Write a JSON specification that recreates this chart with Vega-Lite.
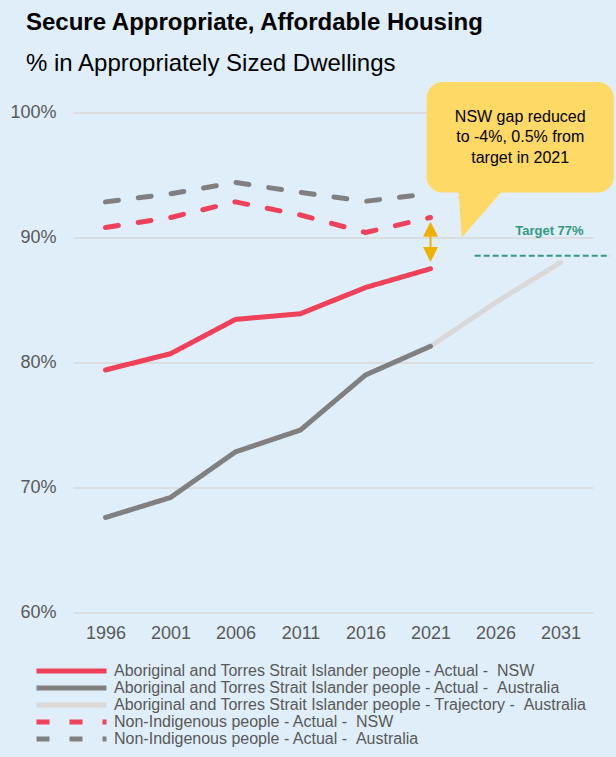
{
  "$schema": "https://vega.github.io/schema/vega-lite/v6.json",
  "autosize": "none",
  "width": 520,
  "height": 500,
  "padding": {"left": 73, "top": 112.5, "right": 23, "bottom": 144.5},
  "background": "#DFEEF9",
  "config": {
    "font": "Liberation Sans",
    "view": {"stroke": null}
  },
  "title": {
    "text": "Secure Appropriate, Affordable Housing",
    "subtitle": "% in Appropriately Sized Dwellings",
    "anchor": "start",
    "frame": "group",
    "dx": -47,
    "fontSize": 24,
    "fontWeight": "bold",
    "color": "#000000",
    "subtitleFontSize": 24,
    "subtitleColor": "#000000",
    "subtitlePadding": 17,
    "offset": 6
  },
  "layer": [
    {
      "data": {
        "values": [
          {"series": "Aboriginal and Torres Strait Islander people - Actual - \u00a0NSW", "year": 1996, "pct": 79.4},
          {"series": "Aboriginal and Torres Strait Islander people - Actual - \u00a0NSW", "year": 2001, "pct": 80.7},
          {"series": "Aboriginal and Torres Strait Islander people - Actual - \u00a0NSW", "year": 2006, "pct": 83.45},
          {"series": "Aboriginal and Torres Strait Islander people - Actual - \u00a0NSW", "year": 2011, "pct": 83.9},
          {"series": "Aboriginal and Torres Strait Islander people - Actual - \u00a0NSW", "year": 2016, "pct": 86.0},
          {"series": "Aboriginal and Torres Strait Islander people - Actual - \u00a0NSW", "year": 2021, "pct": 87.5},
          {"series": "Aboriginal and Torres Strait Islander people - Trajectory - \u00a0Australia", "year": 2021, "pct": 81.3},
          {"series": "Aboriginal and Torres Strait Islander people - Trajectory - \u00a0Australia", "year": 2026, "pct": 84.8},
          {"series": "Aboriginal and Torres Strait Islander people - Trajectory - \u00a0Australia", "year": 2031, "pct": 88.0},
          {"series": "Aboriginal and Torres Strait Islander people - Actual - \u00a0Australia", "year": 1996, "pct": 67.6},
          {"series": "Aboriginal and Torres Strait Islander people - Actual - \u00a0Australia", "year": 2001, "pct": 69.2},
          {"series": "Aboriginal and Torres Strait Islander people - Actual - \u00a0Australia", "year": 2006, "pct": 72.85},
          {"series": "Aboriginal and Torres Strait Islander people - Actual - \u00a0Australia", "year": 2011, "pct": 74.6},
          {"series": "Aboriginal and Torres Strait Islander people - Actual - \u00a0Australia", "year": 2016, "pct": 79.0},
          {"series": "Aboriginal and Torres Strait Islander people - Actual - \u00a0Australia", "year": 2021, "pct": 81.3},
          {"series": "Non-Indigenous people - Actual - \u00a0NSW", "year": 1996, "pct": 90.8},
          {"series": "Non-Indigenous people - Actual - \u00a0NSW", "year": 2001, "pct": 91.6},
          {"series": "Non-Indigenous people - Actual - \u00a0NSW", "year": 2006, "pct": 92.85},
          {"series": "Non-Indigenous people - Actual - \u00a0NSW", "year": 2011, "pct": 91.8},
          {"series": "Non-Indigenous people - Actual - \u00a0NSW", "year": 2016, "pct": 90.4},
          {"series": "Non-Indigenous people - Actual - \u00a0NSW", "year": 2021, "pct": 91.6},
          {"series": "Non-Indigenous people - Actual - \u00a0Australia", "year": 1996, "pct": 92.85},
          {"series": "Non-Indigenous people - Actual - \u00a0Australia", "year": 2001, "pct": 93.5},
          {"series": "Non-Indigenous people - Actual - \u00a0Australia", "year": 2006, "pct": 94.4},
          {"series": "Non-Indigenous people - Actual - \u00a0Australia", "year": 2011, "pct": 93.6},
          {"series": "Non-Indigenous people - Actual - \u00a0Australia", "year": 2016, "pct": 92.9},
          {"series": "Non-Indigenous people - Actual - \u00a0Australia", "year": 2021, "pct": 93.5}
        ]
      },
      "mark": {"type": "line", "strokeWidth": 5, "strokeCap": "round", "strokeJoin": "round"},
      "encoding": {
        "x": {
          "field": "year", "type": "quantitative",
          "scale": {"domain": [1993.5, 2033.5], "nice": false, "zero": false},
          "axis": {
            "title": null, "values": [1996, 2001, 2006, 2011, 2016, 2021, 2026, 2031], "format": "d",
            "grid": false, "domain": false, "ticks": false, "labelFontSize": 18, "labelColor": "#595959",
            "labelPadding": 12, "labelFont": "Liberation Sans"
          }
        },
        "y": {
          "field": "pct", "type": "quantitative",
          "scale": {"domain": [60, 100], "nice": false, "zero": false},
          "axis": {
            "title": null, "values": [60, 70, 80, 90, 100], "labelExpr": "datum.value + '%'",
            "grid": true, "gridColor": "#D9D9D9", "gridWidth": 1.5, "domain": false, "ticks": false,
            "labelFontSize": 18, "labelColor": "#595959", "labelPadding": 17, "labelFont": "Liberation Sans"
          }
        },
        "color": {
          "field": "series", "type": "nominal",
          "scale": {
            "domain": [
              "Aboriginal and Torres Strait Islander people - Actual - \u00a0NSW",
              "Aboriginal and Torres Strait Islander people - Actual - \u00a0Australia",
              "Aboriginal and Torres Strait Islander people - Trajectory - \u00a0Australia",
              "Non-Indigenous people - Actual - \u00a0NSW",
              "Non-Indigenous people - Actual - \u00a0Australia"
            ],
            "range": ["#EF415A", "#808080", "#D9D9D9", "#EF415A", "#808080"]
          },
          "legend": {
            "title": null, "orient": "none", "legendX": -39, "legendY": 551,
            "symbolType": "stroke", "symbolSize": 4900, "symbolStrokeWidth": 5,
            "labelFontSize": 16, "labelColor": "#595959", "labelLimit": 600, "labelOffset": 5,
            "clipHeight": 15, "rowPadding": 0, "labelFont": "Liberation Sans"
          }
        },
        "strokeDash": {
          "field": "series", "type": "nominal",
          "scale": {
            "domain": [
              "Aboriginal and Torres Strait Islander people - Actual - \u00a0NSW",
              "Aboriginal and Torres Strait Islander people - Actual - \u00a0Australia",
              "Aboriginal and Torres Strait Islander people - Trajectory - \u00a0Australia",
              "Non-Indigenous people - Actual - \u00a0NSW",
              "Non-Indigenous people - Actual - \u00a0Australia"
            ],
            "range": [[1, 0], [1, 0], [1, 0], [13, 20], [13, 20]]
          },
          "legend": {
            "title": null, "orient": "none", "legendX": -39, "legendY": 551,
            "symbolType": "stroke", "symbolSize": 4900, "symbolStrokeWidth": 5,
            "labelFontSize": 16, "labelColor": "#595959", "labelLimit": 600, "labelOffset": 5,
            "clipHeight": 15, "rowPadding": 0, "labelFont": "Liberation Sans"
          }
        }
      }
    },
    {
      "data": {"values": [{"x": 2024.4, "x2": 2034.8, "y": 88.55}]},
      "mark": {"type": "rule", "color": "#35997F", "strokeWidth": 2, "strokeDash": [6, 3], "clip": false},
      "encoding": {
        "x": {"field": "x", "type": "quantitative"},
        "x2": {"field": "x2"},
        "y": {"field": "y", "type": "quantitative"}
      }
    },
    {
      "data": {"values": [{"x": 2030.15, "y": 90.55, "label": "Target 77%"}]},
      "mark": {"type": "text", "color": "#35997F", "fontSize": 13, "fontWeight": "bold", "align": "center", "baseline": "middle", "font": "Liberation Sans"},
      "encoding": {
        "x": {"field": "x", "type": "quantitative"},
        "y": {"field": "y", "type": "quantitative"},
        "text": {"field": "label"}
      }
    },
    {
      "data": {"values": [{"x": 2020.7, "x2": 2035.1, "y": 102.45, "y2": 93.6}]},
      "mark": {"type": "rect", "fill": "#FFD966", "cornerRadius": 16, "clip": false},
      "encoding": {
        "x": {"field": "x", "type": "quantitative"},
        "x2": {"field": "x2"},
        "y": {"field": "y", "type": "quantitative"},
        "y2": {"field": "y2"}
      }
    },
    {
      "data": {"values": [
        {"x": 2023.15, "top": 93.7, "bottom": 93.7},
        {"x": 2023.4, "top": 93.7, "bottom": 90.0},
        {"x": 2026.5, "top": 93.7, "bottom": 93.7}
      ]},
      "mark": {"type": "area", "fill": "#FFD966", "clip": false, "orient": "vertical"},
      "encoding": {
        "x": {"field": "x", "type": "quantitative"},
        "y": {"field": "top", "type": "quantitative"},
        "y2": {"field": "bottom"}
      }
    },
    {
      "data": {"values": [{"x": 2027.9, "y": 99.68, "label": "NSW gap reduced\nto -4%, 0.5% from\ntarget in 2021"}]},
      "mark": {"type": "text", "color": "#000000", "fontSize": 16, "align": "center", "baseline": "middle", "lineBreak": "\n", "lineHeight": 20.5, "clip": false, "font": "Liberation Sans"},
      "encoding": {
        "x": {"field": "x", "type": "quantitative"},
        "y": {"field": "y", "type": "quantitative"},
        "text": {"field": "label"}
      }
    },
    {
      "data": {"values": [{"x": 2021, "y": 90.6, "y2": 88.7}]},
      "mark": {"type": "rule", "color": "#F0B000", "strokeWidth": 2},
      "encoding": {
        "x": {"field": "x", "type": "quantitative"},
        "y": {"field": "y", "type": "quantitative"},
        "y2": {"field": "y2"}
      }
    },
    {
      "data": {"values": [
        {"x": 2021, "y": 90.66, "dir": "up"},
        {"x": 2021, "y": 88.64, "dir": "down"}
      ]},
      "mark": {"type": "point", "filled": true, "color": "#F0B000", "opacity": 1, "size": 225},
      "encoding": {
        "x": {"field": "x", "type": "quantitative"},
        "y": {"field": "y", "type": "quantitative"},
        "shape": {
          "field": "dir", "type": "nominal",
          "scale": {"domain": ["up", "down"], "range": ["M0,-1L1,1L-1,1Z", "M0,1L1,-1L-1,-1Z"]},
          "legend": null
        }
      }
    }
  ]
}
